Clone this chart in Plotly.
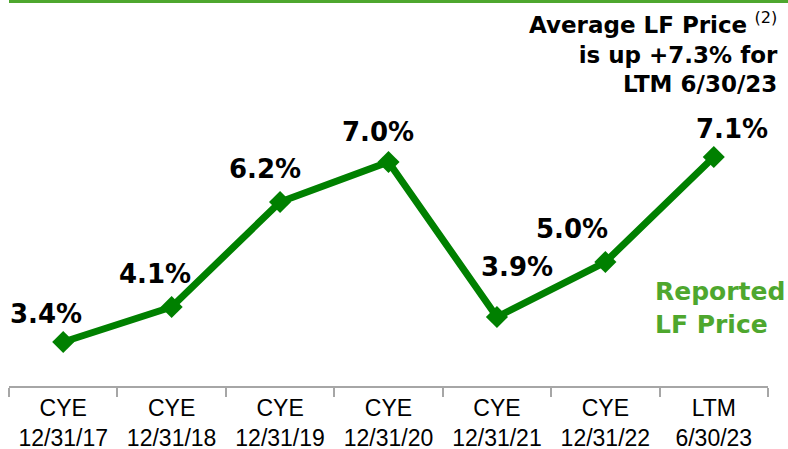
import plotly.graph_objects as go

# values
periods = ["CYE<br>12/31/17", "CYE<br>12/31/18", "CYE<br>12/31/19", "CYE<br>12/31/20",
           "CYE<br>12/31/21", "CYE<br>12/31/22", "LTM<br>6/30/23"]
lf_price = [3.4, 4.1, 6.2, 7.0, 3.9, 5.0, 7.1]

# label offsets (px) relative to each point
label_dx = [-17, -17, -15, -11, 20, -33, 18]
label_dy = [28, 33, 33, 30, 50, 33, 28]

LINE_GREEN = "#008000"
TEXT_GREEN = "#4ea72e"
BOLD_FONT = "DejaVu Sans"

# plot area in pixels: x 9..768, y 0..386
PW, PH, L = 759, 386, 9

fig = go.Figure()
fig.add_trace(go.Scatter(
    x=periods, y=lf_price,
    mode="lines+markers",
    line=dict(color=LINE_GREEN, width=7),
    marker=dict(symbol="diamond", size=17, color=LINE_GREEN),
    showlegend=False,
    hoverinfo="skip",
))

annotations = []
for p, v, dx, dy in zip(periods, lf_price, label_dx, label_dy):
    annotations.append(dict(
        x=p, y=v, xref="x", yref="y",
        text="<b>%.1f%%</b>" % v,
        showarrow=False, xshift=dx, yshift=dy,
        font=dict(family=BOLD_FONT, size=26, color="#000000"),
    ))

# headline, top right
annotations.append(dict(
    x=(780 - L) / PW, y=1 - 6 / PH, xref="paper", yref="paper",
    xanchor="right", yanchor="top", align="right",
    text="<b>Average LF Price</b> <sup>(2)</sup><br>"
         "<b>is up +7.3% for</b><br><b>LTM 6/30/23</b>",
    showarrow=False,
    font=dict(family=BOLD_FONT, size=23, color="#000000"),
))

# series label
annotations.append(dict(
    x=(653 - L) / PW, y=1 - 275 / PH, xref="paper", yref="paper",
    xanchor="left", yanchor="top", align="left",
    text="<b>Reported</b><br><b>LF Price</b>",
    showarrow=False,
    font=dict(family=BOLD_FONT, size=25, color=TEXT_GREEN),
))

fig.update_layout(
    width=788, height=449,
    margin=dict(l=L, r=788 - L - PW, t=0, b=449 - PH),
    paper_bgcolor="white", plot_bgcolor="white",
    annotations=annotations,
    shapes=[dict(
        type="rect", xref="paper", yref="paper",
        x0=0, x1=(788 - L) / PW, y0=1 - 3 / PH, y1=1,
        fillcolor=TEXT_GREEN, line=dict(width=0), layer="above",
    )],
    xaxis=dict(
        type="category", range=[-0.5, 6.5], automargin=False,
        showline=True, linecolor="#a6a6a6", linewidth=2,
        tickson="boundaries", ticks="outside", ticklen=9, tickwidth=2, tickcolor="#a6a6a6",
        showgrid=False, zeroline=False,
        tickfont=dict(family="Liberation Sans", size=23, color="#000000"),
    ),
    yaxis=dict(
        range=[3.4 - 44 / 50, 3.4 + 342 / 50], automargin=False,
        visible=False, showgrid=False, zeroline=False,
    ),
)

fig.write_html("out.html", config={"displayModeBar": False},
               post_script="document.body.style.margin='0';")
